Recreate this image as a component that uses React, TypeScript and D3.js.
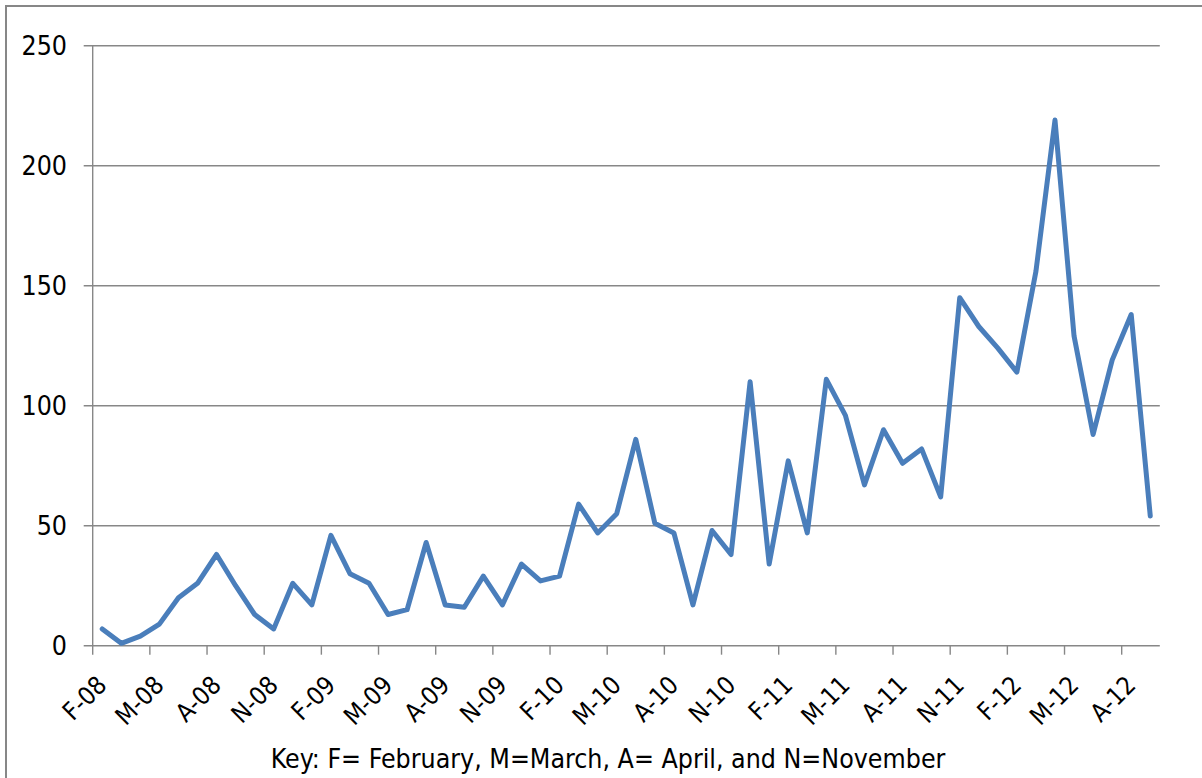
import React, { useEffect, useRef } from "react";
import * as d3 from "d3";

// monthly counts, Feb-08 .. Sep-12
const months = [
  "Feb-08", "Mar-08", "Apr-08", "May-08", "Jun-08", "Jul-08", "Aug-08", "Sep-08", "Oct-08", "Nov-08", "Dec-08",
  "Jan-09", "Feb-09", "Mar-09", "Apr-09", "May-09", "Jun-09", "Jul-09", "Aug-09", "Sep-09", "Oct-09", "Nov-09", "Dec-09",
  "Jan-10", "Feb-10", "Mar-10", "Apr-10", "May-10", "Jun-10", "Jul-10", "Aug-10", "Sep-10", "Oct-10", "Nov-10", "Dec-10",
  "Jan-11", "Feb-11", "Mar-11", "Apr-11", "May-11", "Jun-11", "Jul-11", "Aug-11", "Sep-11", "Oct-11", "Nov-11", "Dec-11",
  "Jan-12", "Feb-12", "Mar-12", "Apr-12", "May-12", "Jun-12", "Jul-12", "Aug-12", "Sep-12",
];

const counts = [
  7, 1, 4, 9, 20, 26, 38, 25, 13, 7, 26,
  17, 46, 30, 26, 13, 15, 43, 17, 16, 29, 17, 34,
  27, 29, 59, 47, 55, 86, 51, 47, 17, 48, 38, 110,
  34, 77, 47, 111, 96, 67, 90, 76, 82, 62, 145, 133,
  124, 114, 156, 219, 129, 88, 119, 138, 54,
];

// every third month gets a label
const tickLabels = [
  "F-08", "M-08", "A-08", "N-08", "F-09", "M-09", "A-09", "N-09", "F-10", "M-10",
  "A-10", "N-10", "F-11", "M-11", "A-11", "N-11", "F-12", "M-12", "A-12",
];

const yTicks = [0, 50, 100, 150, 200, 250];

const keyText = "Key: F= February, M=March, A= April, and N=November";

const W = 1202;
const H = 778;
const FONT = "'DejaVu Sans Condensed', 'DejaVu Sans', Verdana, sans-serif";

const App: React.FC = () => {
  const svgRef = useRef<SVGSVGElement | null>(null);

  useEffect(() => {
    if (!svgRef.current) return;
    const svg = d3.select(svgRef.current);
    svg.selectAll("*").remove();

    const left = 92.7;
    const right = 1159.8;
    const top = 45.7;
    const bottom = 645.7;

    const x = d3
      .scaleBand<string>()
      .domain(months)
      .range([left, right])
      .padding(0);
    const y = d3.scaleLinear().domain([0, 250]).range([bottom, top]);

    // chart area border (right and bottom fall outside the frame)
    svg
      .append("rect")
      .attr("x", 6)
      .attr("y", 6)
      .attr("width", 1400)
      .attr("height", 1000)
      .attr("fill", "none")
      .attr("stroke", "#878787")
      .attr("stroke-width", 2);

    // gridlines + y ticks
    svg
      .append("g")
      .selectAll("line")
      .data(yTicks)
      .enter()
      .append("line")
      .attr("x1", left - 9)
      .attr("x2", right)
      .attr("y1", (d) => y(d))
      .attr("y2", (d) => y(d))
      .attr("stroke", "#878787")
      .attr("stroke-width", 1.4);

    svg
      .append("g")
      .selectAll("text")
      .data(yTicks)
      .enter()
      .append("text")
      .attr("x", 67)
      .attr("y", (d) => y(d))
      .attr("dy", "0.36em")
      .attr("text-anchor", "end")
      .style("font-family", FONT)
      .style("font-size", "26.5px")
      .style("fill", "#000")
      .text((d) => d);

    // y axis line
    svg
      .append("line")
      .attr("x1", left)
      .attr("x2", left)
      .attr("y1", top)
      .attr("y2", bottom)
      .attr("stroke", "#878787")
      .attr("stroke-width", 1.4);

    // x ticks every 3 categories, on the category boundary
    const tickIdx = d3.range(0, months.length, 3);
    svg
      .append("g")
      .selectAll("line")
      .data(tickIdx)
      .enter()
      .append("line")
      .attr("x1", (i) => x(months[i]) ?? 0)
      .attr("x2", (i) => x(months[i]) ?? 0)
      .attr("y1", bottom)
      .attr("y2", bottom + 9)
      .attr("stroke", "#878787")
      .attr("stroke-width", 1.4);

    svg
      .append("g")
      .selectAll("text")
      .data(tickIdx)
      .enter()
      .append("text")
      .attr("transform", (i) => {
        const cx = (x(months[i]) ?? 0) + x.bandwidth() / 2;
        return `translate(${cx + 6},${bottom + 41}) rotate(-45)`;
      })
      .attr("text-anchor", "end")
      .style("font-family", FONT)
      .style("font-size", "25px")
      .style("fill", "#000")
      .text((i, k) => tickLabels[k]);

    // the series
    const line = d3
      .line<number>()
      .x((d, i) => (x(months[i]) ?? 0) + x.bandwidth() / 2)
      .y((d) => y(d));

    svg
      .append("path")
      .datum(counts)
      .attr("fill", "none")
      .attr("stroke", "#4A7EBB")
      .attr("stroke-width", 5)
      .attr("stroke-linejoin", "round")
      .attr("stroke-linecap", "round")
      .attr("d", line);

    svg
      .append("text")
      .attr("x", 608)
      .attr("y", 768)
      .attr("text-anchor", "middle")
      .style("font-family", FONT)
      .style("font-size", "26.5px")
      .style("fill", "#000")
      .text(keyText);
  }, []);

  return (
    <svg
      ref={svgRef}
      width={W}
      height={H}
      style={{ position: "absolute", left: 0, top: 0, background: "#fff" }}
    />
  );
};

export default App;
